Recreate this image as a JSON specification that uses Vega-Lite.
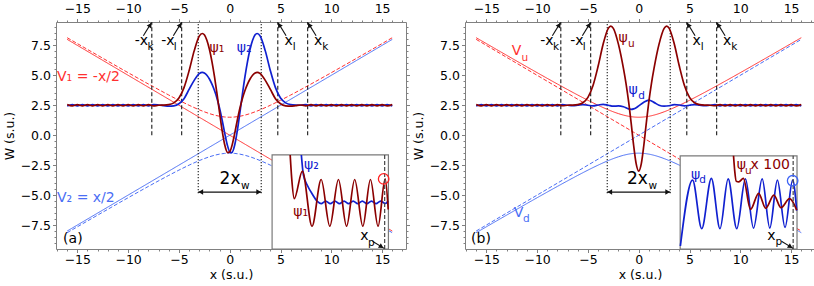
{
"$schema": "https://vega.github.io/schema/vega-lite/v6.json",
"padding": {"left": 2, "top": 2, "right": 0, "bottom": 0},
"background": "white",
"spacing": 59,
"bounds": "flush",
"config": {
  "view": {"stroke": "#808080", "strokeWidth": 1},
  "axis": {"grid": false, "labelFont": "DejaVu Sans", "labelFontSize": 12.5, "labelColor": "#000000", "titleFont": "DejaVu Sans", "titleFontSize": 12.5, "titleFontWeight": "normal", "titleColor": "#000000", "tickColor": "#808080", "tickSize": 3.5, "domain": false, "zindex": 1},
  "text": {"font": "DejaVu Sans"}
},
"resolve": {"scale": {"x": "independent", "y": "independent", "color": "independent", "strokeDash": "independent"}},
"datasets": {
  "potential": [
    {"curve":"dia1","state":"1","kind":"diabatic","x":-16,"W":8},
    {"curve":"dia1","state":"1","kind":"diabatic","x":16,"W":-8},
    {"curve":"dia2","state":"2","kind":"diabatic","x":-16,"W":-8},
    {"curve":"dia2","state":"2","kind":"diabatic","x":16,"W":8},
    {"curve":"ad1","state":"1","kind":"adiabatic","x":-16,"W":8.139},
    {"curve":"ad1","state":"1","kind":"adiabatic","x":-14,"W":7.159},
    {"curve":"ad1","state":"1","kind":"adiabatic","x":-12,"W":6.185},
    {"curve":"ad1","state":"1","kind":"adiabatic","x":-10,"W":5.220},
    {"curve":"ad1","state":"1","kind":"adiabatic","x":-8,"W":4.272},
    {"curve":"ad1","state":"1","kind":"adiabatic","x":-6,"W":3.354},
    {"curve":"ad1","state":"1","kind":"adiabatic","x":-5,"W":2.915},
    {"curve":"ad1","state":"1","kind":"adiabatic","x":-4,"W":2.5},
    {"curve":"ad1","state":"1","kind":"adiabatic","x":-3,"W":2.121},
    {"curve":"ad1","state":"1","kind":"adiabatic","x":-2.5,"W":1.953},
    {"curve":"ad1","state":"1","kind":"adiabatic","x":-2,"W":1.803},
    {"curve":"ad1","state":"1","kind":"adiabatic","x":-1.5,"W":1.677},
    {"curve":"ad1","state":"1","kind":"adiabatic","x":-1,"W":1.581},
    {"curve":"ad1","state":"1","kind":"adiabatic","x":-0.5,"W":1.521},
    {"curve":"ad1","state":"1","kind":"adiabatic","x":0,"W":1.5},
    {"curve":"ad1","state":"1","kind":"adiabatic","x":0.5,"W":1.521},
    {"curve":"ad1","state":"1","kind":"adiabatic","x":1,"W":1.581},
    {"curve":"ad1","state":"1","kind":"adiabatic","x":1.5,"W":1.677},
    {"curve":"ad1","state":"1","kind":"adiabatic","x":2,"W":1.803},
    {"curve":"ad1","state":"1","kind":"adiabatic","x":2.5,"W":1.953},
    {"curve":"ad1","state":"1","kind":"adiabatic","x":3,"W":2.121},
    {"curve":"ad1","state":"1","kind":"adiabatic","x":4,"W":2.5},
    {"curve":"ad1","state":"1","kind":"adiabatic","x":5,"W":2.915},
    {"curve":"ad1","state":"1","kind":"adiabatic","x":6,"W":3.354},
    {"curve":"ad1","state":"1","kind":"adiabatic","x":8,"W":4.272},
    {"curve":"ad1","state":"1","kind":"adiabatic","x":10,"W":5.220},
    {"curve":"ad1","state":"1","kind":"adiabatic","x":12,"W":6.185},
    {"curve":"ad1","state":"1","kind":"adiabatic","x":14,"W":7.159},
    {"curve":"ad1","state":"1","kind":"adiabatic","x":16,"W":8.139},
    {"curve":"ad2","state":"2","kind":"adiabatic","x":-16,"W":-8.139},
    {"curve":"ad2","state":"2","kind":"adiabatic","x":-14,"W":-7.159},
    {"curve":"ad2","state":"2","kind":"adiabatic","x":-12,"W":-6.185},
    {"curve":"ad2","state":"2","kind":"adiabatic","x":-10,"W":-5.220},
    {"curve":"ad2","state":"2","kind":"adiabatic","x":-8,"W":-4.272},
    {"curve":"ad2","state":"2","kind":"adiabatic","x":-6,"W":-3.354},
    {"curve":"ad2","state":"2","kind":"adiabatic","x":-5,"W":-2.915},
    {"curve":"ad2","state":"2","kind":"adiabatic","x":-4,"W":-2.5},
    {"curve":"ad2","state":"2","kind":"adiabatic","x":-3,"W":-2.121},
    {"curve":"ad2","state":"2","kind":"adiabatic","x":-2.5,"W":-1.953},
    {"curve":"ad2","state":"2","kind":"adiabatic","x":-2,"W":-1.803},
    {"curve":"ad2","state":"2","kind":"adiabatic","x":-1.5,"W":-1.677},
    {"curve":"ad2","state":"2","kind":"adiabatic","x":-1,"W":-1.581},
    {"curve":"ad2","state":"2","kind":"adiabatic","x":-0.5,"W":-1.521},
    {"curve":"ad2","state":"2","kind":"adiabatic","x":0,"W":-1.5},
    {"curve":"ad2","state":"2","kind":"adiabatic","x":0.5,"W":-1.521},
    {"curve":"ad2","state":"2","kind":"adiabatic","x":1,"W":-1.581},
    {"curve":"ad2","state":"2","kind":"adiabatic","x":1.5,"W":-1.677},
    {"curve":"ad2","state":"2","kind":"adiabatic","x":2,"W":-1.803},
    {"curve":"ad2","state":"2","kind":"adiabatic","x":2.5,"W":-1.953},
    {"curve":"ad2","state":"2","kind":"adiabatic","x":3,"W":-2.121},
    {"curve":"ad2","state":"2","kind":"adiabatic","x":4,"W":-2.5},
    {"curve":"ad2","state":"2","kind":"adiabatic","x":5,"W":-2.915},
    {"curve":"ad2","state":"2","kind":"adiabatic","x":6,"W":-3.354},
    {"curve":"ad2","state":"2","kind":"adiabatic","x":8,"W":-4.272},
    {"curve":"ad2","state":"2","kind":"adiabatic","x":10,"W":-5.220},
    {"curve":"ad2","state":"2","kind":"adiabatic","x":12,"W":-6.185},
    {"curve":"ad2","state":"2","kind":"adiabatic","x":14,"W":-7.159},
    {"curve":"ad2","state":"2","kind":"adiabatic","x":16,"W":-8.139}
  ],
  "guides": [
    {"kind":"turning","x":-7.67,"y":0,"y2":9.45},
    {"kind":"turning","x":-4.73,"y":0,"y2":9.45},
    {"kind":"turning","x":4.73,"y":0,"y2":9.45},
    {"kind":"turning","x":7.67,"y":0,"y2":9.45},
    {"kind":"width","x":-3.1,"y":-4.85,"y2":9.45},
    {"kind":"width","x":3.1,"y":-4.85,"y2":9.45}
  ],
  "arrows": [
    {"x":-8.5,"y":8.3,"x2":-7.72,"y2":9.38},
    {"x":-5.55,"y":8.3,"x2":-4.77,"y2":9.38},
    {"x":5.55,"y":8.3,"x2":4.77,"y2":9.38},
    {"x":8.5,"y":8.3,"x2":7.72,"y2":9.38},
    {"x":-3.1,"y":-4.75,"x2":3.1,"y2":-4.75},
    {"x":14.05,"y":-8.85,"x2":15.2,"y2":-9.45}
  ],
  "heads": [
    {"x":-7.82,"y":9.2,"angle":33},
    {"x":-4.87,"y":9.2,"angle":33},
    {"x":4.87,"y":9.2,"angle":327},
    {"x":7.82,"y":9.2,"angle":327},
    {"x":-2.85,"y":-4.75,"angle":270},
    {"x":2.85,"y":-4.75,"angle":90},
    {"x":14.93,"y":-9.31,"angle":122}
  ],
  "insetBox": [
    {"panel":"a","x1":4.17,"x2":15.62,"y1":-9.5,"y2":-1.65},
    {"panel":"b","x1":4.08,"x2":15.58,"y1":-9.5,"y2":-1.72}
  ],
  "probe": [
    {"panel":"a","series":"state1","x":15.25,"y1":-9.5,"y2":-1.65,"xc":15.15,"yc":-3.65},
    {"panel":"b","series":"state2","x":15.2,"y1":-9.5,"y2":-1.72,"xc":15.15,"yc":-3.8}
  ],
  "waveA": [
    {"psi":"ψ2","x":-16,"y":2.44},{"psi":"ψ2","x":-15.5,"y":2.56},{"psi":"ψ2","x":-15,"y":2.44},{"psi":"ψ2","x":-14.5,"y":2.56},{"psi":"ψ2","x":-14,"y":2.44},{"psi":"ψ2","x":-13.5,"y":2.56},{"psi":"ψ2","x":-13,"y":2.44},{"psi":"ψ2","x":-12.5,"y":2.56},{"psi":"ψ2","x":-12,"y":2.44},{"psi":"ψ2","x":-11.5,"y":2.56},{"psi":"ψ2","x":-11,"y":2.44},{"psi":"ψ2","x":-10.5,"y":2.56},{"psi":"ψ2","x":-10,"y":2.44},{"psi":"ψ2","x":-9.5,"y":2.56},{"psi":"ψ2","x":-9,"y":2.44},{"psi":"ψ2","x":-8.5,"y":2.56},{"psi":"ψ2","x":-8,"y":2.44},{"psi":"ψ2","x":-7.5,"y":2.55},
    {"psi":"ψ2","x":-7,"y":2.52},{"psi":"ψ2","x":-6.5,"y":2.47},{"psi":"ψ2","x":-6,"y":2.42},{"psi":"ψ2","x":-5.5,"y":2.45},{"psi":"ψ2","x":-5,"y":2.62},{"psi":"ψ2","x":-4.5,"y":3.05},{"psi":"ψ2","x":-4,"y":3.82},{"psi":"ψ2","x":-3.5,"y":4.58},{"psi":"ψ2","x":-3,"y":5.14},{"psi":"ψ2","x":-2.7,"y":5.25},{"psi":"ψ2","x":-2.5,"y":5.2},{"psi":"ψ2","x":-2.25,"y":5.01},{"psi":"ψ2","x":-2,"y":4.69},{"psi":"ψ2","x":-1.75,"y":4.26},{"psi":"ψ2","x":-1.5,"y":3.73},{"psi":"ψ2","x":-1.25,"y":3.07},{"psi":"ψ2","x":-1,"y":2.25},{"psi":"ψ2","x":-0.75,"y":1.27},{"psi":"ψ2","x":-0.5,"y":0.2},{"psi":"ψ2","x":-0.25,"y":-0.77},{"psi":"ψ2","x":0,"y":-1.38},{"psi":"ψ2","x":0.2,"y":-1.45},{"psi":"ψ2","x":0.5,"y":-0.78},{"psi":"ψ2","x":0.75,"y":0.4},{"psi":"ψ2","x":1,"y":1.88},{"psi":"ψ2","x":1.25,"y":3.44},{"psi":"ψ2","x":1.5,"y":4.89},{"psi":"ψ2","x":1.75,"y":6.15},{"psi":"ψ2","x":2,"y":7.18},{"psi":"ψ2","x":2.25,"y":7.93},{"psi":"ψ2","x":2.5,"y":8.38},{"psi":"ψ2","x":2.7,"y":8.49},{"psi":"ψ2","x":3,"y":8.27},{"psi":"ψ2","x":3.5,"y":7.04},{"psi":"ψ2","x":4,"y":5.38},{"psi":"ψ2","x":4.5,"y":3.97},{"psi":"ψ2","x":5,"y":3.1},{"psi":"ψ2","x":5.5,"y":2.7},{"psi":"ψ2","x":6,"y":2.55},{"psi":"ψ2","x":6.5,"y":2.51},{"psi":"ψ2","x":7,"y":2.5},
    {"psi":"ψ2","x":7.5,"y":2.55},{"psi":"ψ2","x":8,"y":2.44},{"psi":"ψ2","x":8.5,"y":2.56},{"psi":"ψ2","x":9,"y":2.44},{"psi":"ψ2","x":9.5,"y":2.56},{"psi":"ψ2","x":10,"y":2.44},{"psi":"ψ2","x":10.5,"y":2.56},{"psi":"ψ2","x":11,"y":2.44},{"psi":"ψ2","x":11.5,"y":2.56},{"psi":"ψ2","x":12,"y":2.44},{"psi":"ψ2","x":12.5,"y":2.56},{"psi":"ψ2","x":13,"y":2.44},{"psi":"ψ2","x":13.5,"y":2.56},{"psi":"ψ2","x":14,"y":2.44},{"psi":"ψ2","x":14.5,"y":2.56},{"psi":"ψ2","x":15,"y":2.44},{"psi":"ψ2","x":15.5,"y":2.56},{"psi":"ψ2","x":16,"y":2.44},
    {"psi":"ψ1","x":-16,"y":2.56},{"psi":"ψ1","x":-15.5,"y":2.44},{"psi":"ψ1","x":-15,"y":2.56},{"psi":"ψ1","x":-14.5,"y":2.44},{"psi":"ψ1","x":-14,"y":2.56},{"psi":"ψ1","x":-13.5,"y":2.44},{"psi":"ψ1","x":-13,"y":2.56},{"psi":"ψ1","x":-12.5,"y":2.44},{"psi":"ψ1","x":-12,"y":2.56},{"psi":"ψ1","x":-11.5,"y":2.44},{"psi":"ψ1","x":-11,"y":2.56},{"psi":"ψ1","x":-10.5,"y":2.44},{"psi":"ψ1","x":-10,"y":2.56},{"psi":"ψ1","x":-9.5,"y":2.44},{"psi":"ψ1","x":-9,"y":2.56},{"psi":"ψ1","x":-8.5,"y":2.44},{"psi":"ψ1","x":-8,"y":2.56},{"psi":"ψ1","x":-7.5,"y":2.45},
    {"psi":"ψ1","x":-7,"y":2.5},{"psi":"ψ1","x":-6.5,"y":2.51},{"psi":"ψ1","x":-6,"y":2.55},{"psi":"ψ1","x":-5.5,"y":2.7},{"psi":"ψ1","x":-5,"y":3.1},{"psi":"ψ1","x":-4.5,"y":3.97},{"psi":"ψ1","x":-4,"y":5.38},{"psi":"ψ1","x":-3.5,"y":7.04},{"psi":"ψ1","x":-3,"y":8.27},{"psi":"ψ1","x":-2.7,"y":8.49},{"psi":"ψ1","x":-2.5,"y":8.38},{"psi":"ψ1","x":-2.25,"y":7.93},{"psi":"ψ1","x":-2,"y":7.18},{"psi":"ψ1","x":-1.75,"y":6.15},{"psi":"ψ1","x":-1.5,"y":4.89},{"psi":"ψ1","x":-1.25,"y":3.44},{"psi":"ψ1","x":-1,"y":1.88},{"psi":"ψ1","x":-0.75,"y":0.4},{"psi":"ψ1","x":-0.5,"y":-0.78},{"psi":"ψ1","x":-0.2,"y":-1.45},{"psi":"ψ1","x":0,"y":-1.38},{"psi":"ψ1","x":0.25,"y":-0.77},{"psi":"ψ1","x":0.5,"y":0.2},{"psi":"ψ1","x":0.75,"y":1.27},{"psi":"ψ1","x":1,"y":2.25},{"psi":"ψ1","x":1.25,"y":3.07},{"psi":"ψ1","x":1.5,"y":3.73},{"psi":"ψ1","x":1.75,"y":4.26},{"psi":"ψ1","x":2,"y":4.69},{"psi":"ψ1","x":2.25,"y":5.01},{"psi":"ψ1","x":2.5,"y":5.2},{"psi":"ψ1","x":2.7,"y":5.25},{"psi":"ψ1","x":3,"y":5.14},{"psi":"ψ1","x":3.5,"y":4.58},{"psi":"ψ1","x":4,"y":3.82},{"psi":"ψ1","x":4.5,"y":3.05},{"psi":"ψ1","x":5,"y":2.62},{"psi":"ψ1","x":5.5,"y":2.45},{"psi":"ψ1","x":6,"y":2.42},{"psi":"ψ1","x":6.5,"y":2.47},{"psi":"ψ1","x":7,"y":2.52},
    {"psi":"ψ1","x":7.5,"y":2.45},{"psi":"ψ1","x":8,"y":2.56},{"psi":"ψ1","x":8.5,"y":2.44},{"psi":"ψ1","x":9,"y":2.56},{"psi":"ψ1","x":9.5,"y":2.44},{"psi":"ψ1","x":10,"y":2.56},{"psi":"ψ1","x":10.5,"y":2.44},{"psi":"ψ1","x":11,"y":2.56},{"psi":"ψ1","x":11.5,"y":2.44},{"psi":"ψ1","x":12,"y":2.56},{"psi":"ψ1","x":12.5,"y":2.44},{"psi":"ψ1","x":13,"y":2.56},{"psi":"ψ1","x":13.5,"y":2.44},{"psi":"ψ1","x":14,"y":2.56},{"psi":"ψ1","x":14.5,"y":2.44},{"psi":"ψ1","x":15,"y":2.56},{"psi":"ψ1","x":15.5,"y":2.44},{"psi":"ψ1","x":16,"y":2.56}
  ],
  "waveB": [
    {"psi":"ψd","x":-16,"y":2.44},{"psi":"ψd","x":-15.5,"y":2.56},{"psi":"ψd","x":-15,"y":2.44},{"psi":"ψd","x":-14.5,"y":2.56},{"psi":"ψd","x":-14,"y":2.44},{"psi":"ψd","x":-13.5,"y":2.56},{"psi":"ψd","x":-13,"y":2.44},{"psi":"ψd","x":-12.5,"y":2.56},{"psi":"ψd","x":-12,"y":2.44},{"psi":"ψd","x":-11.5,"y":2.56},{"psi":"ψd","x":-11,"y":2.44},{"psi":"ψd","x":-10.5,"y":2.56},{"psi":"ψd","x":-10,"y":2.44},{"psi":"ψd","x":-9.5,"y":2.56},{"psi":"ψd","x":-9,"y":2.44},{"psi":"ψd","x":-8.5,"y":2.56},{"psi":"ψd","x":-8,"y":2.44},{"psi":"ψd","x":-7.5,"y":2.55},
    {"psi":"ψd","x":-7,"y":2.5},{"psi":"ψd","x":-6.5,"y":2.46},{"psi":"ψd","x":-6,"y":2.5},{"psi":"ψd","x":-5.5,"y":2.55},{"psi":"ψd","x":-5,"y":2.5},{"psi":"ψd","x":-4.5,"y":2.45},{"psi":"ψd","x":-4,"y":2.52},{"psi":"ψd","x":-3.5,"y":2.58},{"psi":"ψd","x":-3,"y":2.5},{"psi":"ψd","x":-2.5,"y":2.42},{"psi":"ψd","x":-2,"y":2.45},{"psi":"ψd","x":-1.5,"y":2.38},{"psi":"ψd","x":-1,"y":2.2},{"psi":"ψd","x":-0.75,"y":2.16},{"psi":"ψd","x":-0.5,"y":2.2},{"psi":"ψd","x":-0.25,"y":2.3},{"psi":"ψd","x":0,"y":2.45},{"psi":"ψd","x":0.5,"y":2.75},{"psi":"ψd","x":1,"y":2.93},{"psi":"ψd","x":1.5,"y":2.74},{"psi":"ψd","x":2,"y":2.5},{"psi":"ψd","x":2.5,"y":2.42},{"psi":"ψd","x":3,"y":2.46},{"psi":"ψd","x":3.5,"y":2.55},{"psi":"ψd","x":4,"y":2.52},{"psi":"ψd","x":4.5,"y":2.45},{"psi":"ψd","x":5,"y":2.5},{"psi":"ψd","x":5.5,"y":2.55},{"psi":"ψd","x":6,"y":2.5},{"psi":"ψd","x":6.5,"y":2.46},{"psi":"ψd","x":7,"y":2.5},
    {"psi":"ψd","x":7.5,"y":2.55},{"psi":"ψd","x":8,"y":2.44},{"psi":"ψd","x":8.5,"y":2.56},{"psi":"ψd","x":9,"y":2.44},{"psi":"ψd","x":9.5,"y":2.56},{"psi":"ψd","x":10,"y":2.44},{"psi":"ψd","x":10.5,"y":2.56},{"psi":"ψd","x":11,"y":2.44},{"psi":"ψd","x":11.5,"y":2.56},{"psi":"ψd","x":12,"y":2.44},{"psi":"ψd","x":12.5,"y":2.56},{"psi":"ψd","x":13,"y":2.44},{"psi":"ψd","x":13.5,"y":2.56},{"psi":"ψd","x":14,"y":2.44},{"psi":"ψd","x":14.5,"y":2.56},{"psi":"ψd","x":15,"y":2.44},{"psi":"ψd","x":15.5,"y":2.56},{"psi":"ψd","x":16,"y":2.44},
    {"psi":"ψu","x":-16,"y":2.56},{"psi":"ψu","x":-15.5,"y":2.44},{"psi":"ψu","x":-15,"y":2.56},{"psi":"ψu","x":-14.5,"y":2.44},{"psi":"ψu","x":-14,"y":2.56},{"psi":"ψu","x":-13.5,"y":2.44},{"psi":"ψu","x":-13,"y":2.56},{"psi":"ψu","x":-12.5,"y":2.44},{"psi":"ψu","x":-12,"y":2.56},{"psi":"ψu","x":-11.5,"y":2.44},{"psi":"ψu","x":-11,"y":2.56},{"psi":"ψu","x":-10.5,"y":2.44},{"psi":"ψu","x":-10,"y":2.56},{"psi":"ψu","x":-9.5,"y":2.44},{"psi":"ψu","x":-9,"y":2.56},{"psi":"ψu","x":-8.5,"y":2.44},{"psi":"ψu","x":-8,"y":2.56},{"psi":"ψu","x":-7.5,"y":2.46},
    {"psi":"ψu","x":-7,"y":2.5},{"psi":"ψu","x":-6.5,"y":2.51},{"psi":"ψu","x":-6,"y":2.55},{"psi":"ψu","x":-5.5,"y":2.71},{"psi":"ψu","x":-5,"y":3.16},{"psi":"ψu","x":-4.5,"y":4.15},{"psi":"ψu","x":-4,"y":5.75},{"psi":"ψu","x":-3.5,"y":7.61},{"psi":"ψu","x":-3,"y":8.92},{"psi":"ψu","x":-2.75,"y":9.1},{"psi":"ψu","x":-2.5,"y":8.92},{"psi":"ψu","x":-2,"y":7.6},{"psi":"ψu","x":-1.5,"y":5.55},{"psi":"ψu","x":-1.25,"y":4.31},{"psi":"ψu","x":-1,"y":2.83},{"psi":"ψu","x":-0.75,"y":1.05},{"psi":"ψu","x":-0.5,"y":-0.86},{"psi":"ψu","x":-0.25,"y":-2.4},{"psi":"ψu","x":0,"y":-3.0},{"psi":"ψu","x":0.25,"y":-2.4},{"psi":"ψu","x":0.5,"y":-0.86},{"psi":"ψu","x":0.75,"y":1.05},{"psi":"ψu","x":1,"y":2.83},{"psi":"ψu","x":1.25,"y":4.31},{"psi":"ψu","x":1.5,"y":5.55},{"psi":"ψu","x":2,"y":7.6},{"psi":"ψu","x":2.5,"y":8.92},{"psi":"ψu","x":2.75,"y":9.1},{"psi":"ψu","x":3,"y":8.92},{"psi":"ψu","x":3.5,"y":7.61},{"psi":"ψu","x":4,"y":5.75},{"psi":"ψu","x":4.5,"y":4.15},{"psi":"ψu","x":5,"y":3.16},{"psi":"ψu","x":5.5,"y":2.71},{"psi":"ψu","x":6,"y":2.55},{"psi":"ψu","x":6.5,"y":2.51},{"psi":"ψu","x":7,"y":2.5},
    {"psi":"ψu","x":7.5,"y":2.46},{"psi":"ψu","x":8,"y":2.56},{"psi":"ψu","x":8.5,"y":2.44},{"psi":"ψu","x":9,"y":2.56},{"psi":"ψu","x":9.5,"y":2.44},{"psi":"ψu","x":10,"y":2.56},{"psi":"ψu","x":10.5,"y":2.44},{"psi":"ψu","x":11,"y":2.56},{"psi":"ψu","x":11.5,"y":2.44},{"psi":"ψu","x":12,"y":2.56},{"psi":"ψu","x":12.5,"y":2.44},{"psi":"ψu","x":13,"y":2.56},{"psi":"ψu","x":13.5,"y":2.44},{"psi":"ψu","x":14,"y":2.56},{"psi":"ψu","x":14.5,"y":2.44},{"psi":"ψu","x":15,"y":2.56},{"psi":"ψu","x":15.5,"y":2.44},{"psi":"ψu","x":16,"y":2.56}
  ],
  "insetA": [
    {"psi":"ψ2","x":7.05,"y":-1.65},{"psi":"ψ2","x":7.25,"y":-3.3},{"psi":"ψ2","x":7.65,"y":-4.2},{"psi":"ψ2","x":8.15,"y":-4.95},{"psi":"ψ2","x":8.65,"y":-5.55},{"psi":"ψ2","x":9.0,"y":-5.72},{"psi":"ψ2","x":9.45,"y":-5.5},{"psi":"ψ2","x":9.9,"y":-5.72},{"psi":"ψ2","x":10.35,"y":-5.5},{"psi":"ψ2","x":10.8,"y":-5.72},{"psi":"ψ2","x":11.25,"y":-5.5},{"psi":"ψ2","x":11.7,"y":-5.72},{"psi":"ψ2","x":12.15,"y":-5.5},{"psi":"ψ2","x":12.6,"y":-5.72},{"psi":"ψ2","x":13.05,"y":-5.5},{"psi":"ψ2","x":13.5,"y":-5.72},{"psi":"ψ2","x":13.95,"y":-5.5},{"psi":"ψ2","x":14.4,"y":-5.72},{"psi":"ψ2","x":14.85,"y":-5.5},{"psi":"ψ2","x":15.3,"y":-5.7},{"psi":"ψ2","x":15.6,"y":-5.5},
    {"psi":"ψ1","x":5.95,"y":-1.65},{"psi":"ψ1","x":6.1,"y":-3.6},{"psi":"ψ1","x":6.35,"y":-5.3},{"psi":"ψ1","x":7.15,"y":-3.0},{"psi":"ψ1","x":8.1,"y":-7.6},{"psi":"ψ1","x":9.0,"y":-3.7},{"psi":"ψ1","x":9.85,"y":-7.6},{"psi":"ψ1","x":10.7,"y":-3.7},{"psi":"ψ1","x":11.5,"y":-7.6},{"psi":"ψ1","x":12.3,"y":-3.7},{"psi":"ψ1","x":13.1,"y":-7.6},{"psi":"ψ1","x":13.85,"y":-3.7},{"psi":"ψ1","x":14.6,"y":-7.6},{"psi":"ψ1","x":15.3,"y":-3.65},{"psi":"ψ1","x":15.6,"y":-6.2}
  ],
  "insetB": [
    {"psi":"ψd","x":4.1,"y":-9.25},{"psi":"ψd","x":5.3,"y":-3.75},{"psi":"ψd","x":6.2,"y":-7.8},{"psi":"ψd","x":7.15,"y":-3.6},{"psi":"ψd","x":8.0,"y":-7.8},{"psi":"ψd","x":8.8,"y":-3.65},{"psi":"ψd","x":9.65,"y":-7.8},{"psi":"ψd","x":10.5,"y":-3.65},{"psi":"ψd","x":11.3,"y":-7.75},{"psi":"ψd","x":12.15,"y":-3.65},{"psi":"ψd","x":12.9,"y":-7.75},{"psi":"ψd","x":13.65,"y":-3.75},{"psi":"ψd","x":14.4,"y":-7.7},{"psi":"ψd","x":15.15,"y":-3.75},{"psi":"ψd","x":15.55,"y":-6.3},
    {"psi":"ψu","x":9.33,"y":-1.72},{"psi":"ψu","x":9.45,"y":-3.0},{"psi":"ψu","x":9.6,"y":-3.85},{"psi":"ψu","x":9.85,"y":-3.9},{"psi":"ψu","x":10.3,"y":-3.6},{"psi":"ψu","x":11.0,"y":-6.2},{"psi":"ψu","x":11.8,"y":-4.85},{"psi":"ψu","x":12.5,"y":-6.1},{"psi":"ψu","x":13.3,"y":-5.0},{"psi":"ψu","x":14.0,"y":-6.05},{"psi":"ψu","x":14.85,"y":-5.3},{"psi":"ψu","x":15.55,"y":-6.25}
  ],
  "labelsA": [
    {"label":"V₁ = -x/2","x":-17.0,"y":4.85,"series":"state1","role":"name"},
    {"label":"V₂ = x/2","x":-17.0,"y":-5.25,"series":"state2","role":"name"},
    {"label":"ψ₁","x":-2.0,"y":7.25,"series":"psi1","role":"name"},
    {"label":"ψ₂","x":0.7,"y":7.25,"series":"psi2","role":"name"},
    {"label":"-x","x":-9.35,"y":7.85,"series":"ink","role":"name"},
    {"label":"k","x":-8.1,"y":7.35,"series":"ink","role":"sub"},
    {"label":"-x","x":-6.75,"y":7.85,"series":"ink","role":"name"},
    {"label":"l","x":-5.5,"y":7.35,"series":"ink","role":"sub"},
    {"label":"x","x":5.4,"y":7.85,"series":"ink","role":"name"},
    {"label":"l","x":6.2,"y":7.35,"series":"ink","role":"sub"},
    {"label":"x","x":8.3,"y":7.85,"series":"ink","role":"name"},
    {"label":"k","x":9.1,"y":7.35,"series":"ink","role":"sub"},
    {"label":"2x","x":-1.0,"y":-3.65,"series":"ink","role":"big"},
    {"label":"w","x":1.1,"y":-4.2,"series":"ink","role":"sub"},
    {"label":"(a)","x":-16.4,"y":-8.7,"series":"ink","role":"name"},
    {"label":"ψ₂","x":7.3,"y":-2.45,"series":"psi2","role":"name"},
    {"label":"ψ₁","x":6.25,"y":-6.45,"series":"psi1","role":"name"},
    {"label":"x","x":12.85,"y":-8.45,"series":"ink","role":"name"},
    {"label":"p","x":13.6,"y":-9.0,"series":"ink","role":"sub"}
  ],
  "labelsB": [
    {"label":"V","x":-12.5,"y":7.0,"series":"state1","role":"name"},
    {"label":"u","x":-11.55,"y":6.45,"series":"state1","role":"sub"},
    {"label":"ψ","x":-2.0,"y":8.1,"series":"psi1","role":"name"},
    {"label":"u","x":-1.05,"y":7.6,"series":"psi1","role":"sub"},
    {"label":"ψ","x":-1.0,"y":3.75,"series":"psi2","role":"name"},
    {"label":"d","x":-0.05,"y":3.25,"series":"psi2","role":"sub"},
    {"label":"V","x":-12.3,"y":-6.5,"series":"state2","role":"name"},
    {"label":"d","x":-11.4,"y":-7.0,"series":"state2","role":"sub"},
    {"label":"(b)","x":-16.5,"y":-8.7,"series":"ink","role":"name"},
    {"label":"-x","x":-9.7,"y":7.85,"series":"ink","role":"name"},
    {"label":"k","x":-8.45,"y":7.35,"series":"ink","role":"sub"},
    {"label":"-x","x":-6.75,"y":7.85,"series":"ink","role":"name"},
    {"label":"l","x":-5.5,"y":7.35,"series":"ink","role":"sub"},
    {"label":"x","x":5.3,"y":7.85,"series":"ink","role":"name"},
    {"label":"l","x":6.1,"y":7.35,"series":"ink","role":"sub"},
    {"label":"x","x":8.3,"y":7.85,"series":"ink","role":"name"},
    {"label":"k","x":9.1,"y":7.35,"series":"ink","role":"sub"},
    {"label":"2x","x":-1.15,"y":-3.65,"series":"ink","role":"big"},
    {"label":"w","x":0.95,"y":-4.2,"series":"ink","role":"sub"},
    {"label":"ψ","x":9.65,"y":-2.5,"series":"psi1","role":"name"},
    {"label":"u","x":10.45,"y":-2.95,"series":"psi1","role":"sub"},
    {"label":"x 100","x":11.0,"y":-2.5,"series":"psi1","role":"name"},
    {"label":"ψ","x":5.15,"y":-3.3,"series":"psi2","role":"name"},
    {"label":"d","x":5.95,"y":-3.75,"series":"psi2","role":"sub"},
    {"label":"x","x":12.65,"y":-8.4,"series":"ink","role":"name"},
    {"label":"p","x":13.45,"y":-8.95,"series":"ink","role":"sub"}
  ]
},
"hconcat": [
  {
    "width": 350, "height": 227,
    "resolve": {"axis": {"x": "independent", "y": "independent"}, "scale": {"color": "independent", "strokeDash": "independent"}},
    "layer": [
      {"data": {"name": "potential"}, "mark": {"type": "line", "strokeWidth": 1, "interpolate": "monotone"},
       "encoding": {
         "x": {"field": "x", "type": "quantitative", "scale": {"domain": [-17.1, 17.35], "nice": false, "zero": false}, "axis": {"orient": "bottom", "values": [-15,-10,-5,0,5,10,15], "title": "x (s.u.)", "labelPadding": 1, "titlePadding": 2}},
         "y": {"field": "W", "type": "quantitative", "scale": {"domain": [-9.5, 9.45], "nice": false, "zero": false}, "axis": {"orient": "left", "values": [-7.5,-5,-2.5,0,2.5,5,7.5], "format": ".1f", "title": "W (s.u.)", "labelPadding": 2, "titlePadding": 4}},
         "color": {"field": "state", "type": "nominal", "scale": {"domain": ["1","2"], "range": ["#ff3030","#4a6ef5"]}, "legend": null},
         "strokeDash": {"field": "kind", "type": "nominal", "scale": {"domain": ["diabatic","adiabatic"], "range": [[1,0],[4,2]]}, "legend": null},
         "detail": {"field": "curve"}
       }},
      {"data": {"name": "guides"}, "mark": {"type": "rule", "color": "#1a1a1a", "strokeWidth": 1.1},
       "encoding": {
         "x": {"field": "x", "type": "quantitative", "axis": {"orient": "bottom", "values": [-17,-16,-14,-13,-12,-11,-9,-8,-7,-6,-4,-3,-2,-1,1,2,3,4,6,7,8,9,11,12,13,14,16,17], "labels": false, "tickSize": 2, "title": null}},
         "y": {"field": "y", "type": "quantitative", "axis": {"orient": "left", "values": [-9,-8.5,-8,-7,-6.5,-6,-5.5,-4.5,-4,-3.5,-3,-2,-1.5,-1,-0.5,0.5,1,1.5,2,3,3.5,4,4.5,5.5,6,6.5,7,8,8.5,9], "labels": false, "tickSize": 2, "title": null}},
         "y2": {"field": "y2"},
         "strokeDash": {"field": "kind", "type": "nominal", "scale": {"domain": ["turning","width"], "range": [[4,2.5],[1.2,1.8]]}, "legend": null}
       }},
      {"data": {"name": "waveA"}, "mark": {"type": "line", "strokeWidth": 1.7, "interpolate": "monotone"},
       "encoding": {
         "x": {"field": "x", "type": "quantitative", "axis": {"orient": "top", "values": [-15,-10,-5,0,5,10,15], "title": null, "labelPadding": 3}},
         "y": {"field": "y", "type": "quantitative", "axis": {"orient": "right", "values": [-7.5,-5,-2.5,0,2.5,5,7.5], "labels": false, "title": null}},
         "color": {"field": "psi", "type": "nominal", "scale": {"domain": ["ψ1","ψ2"], "range": ["#8b0000","#1020d0"]}, "legend": null}
       }},
      {"data": {"name": "insetBox"}, "transform": [{"filter": "datum.panel == 'a'"}], "mark": {"type": "rect", "fill": "white", "stroke": "#7a7a7a", "strokeWidth": 1.2},
       "encoding": {
         "x": {"field": "x1", "type": "quantitative", "axis": {"orient": "top", "values": [-17,-16,-14,-13,-12,-11,-9,-8,-7,-6,-4,-3,-2,-1,1,2,3,4,6,7,8,9,11,12,13,14,16,17], "labels": false, "tickSize": 2, "title": null}},
         "x2": {"field": "x2"},
         "y": {"field": "y1", "type": "quantitative", "axis": {"orient": "right", "values": [-9,-8.5,-8,-7,-6.5,-6,-5.5,-4.5,-4,-3.5,-3,-2,-1.5,-1,-0.5,0.5,1,1.5,2,3,3.5,4,4.5,5.5,6,6.5,7,8,8.5,9], "labels": false, "tickSize": 2, "title": null}},
         "y2": {"field": "y2"}
       }},
      {"data": {"name": "insetA"}, "mark": {"type": "line", "strokeWidth": 1.7, "interpolate": "monotone"},
       "encoding": {
         "x": {"field": "x", "type": "quantitative", "axis": null},
         "y": {"field": "y", "type": "quantitative", "axis": null},
         "color": {"field": "psi", "type": "nominal", "scale": {"domain": ["ψ1","ψ2"], "range": ["#8b0000","#1020d0"]}, "legend": null}
       }},
      {"data": {"name": "probe"}, "transform": [{"filter": "datum.panel == 'a'"}], "mark": {"type": "rule", "color": "#444444", "strokeWidth": 1.2, "strokeDash": [4,2]},
       "encoding": {"x": {"field": "x", "type": "quantitative", "axis": null}, "y": {"field": "y1", "type": "quantitative", "axis": null}, "y2": {"field": "y2"}}},
      {"data": {"name": "probe"}, "transform": [{"filter": "datum.panel == 'a'"}], "mark": {"type": "point", "shape": "circle", "filled": false, "size": 110, "strokeWidth": 1.3, "opacity": 1},
       "encoding": {"x": {"field": "xc", "type": "quantitative", "axis": null}, "y": {"field": "yc", "type": "quantitative", "axis": null},
         "color": {"field": "series", "type": "nominal", "scale": {"domain": ["state1","state2"], "range": ["#ff2020","#3d63f5"]}, "legend": null}}},
      {"data": {"name": "arrows"}, "mark": {"type": "rule", "color": "#111111", "strokeWidth": 1.1},
       "encoding": {"x": {"field": "x", "type": "quantitative", "axis": null}, "y": {"field": "y", "type": "quantitative", "axis": null}, "x2": {"field": "x2"}, "y2": {"field": "y2"}}},
      {"data": {"name": "heads"}, "mark": {"type": "point", "shape": "triangle-up", "filled": true, "size": 30, "color": "#111111", "opacity": 1},
       "encoding": {"x": {"field": "x", "type": "quantitative", "axis": null}, "y": {"field": "y", "type": "quantitative", "axis": null}, "angle": {"field": "angle", "type": "quantitative", "scale": null}}},
      {"data": {"name": "labelsA"}, "transform": [{"filter": "datum.role == 'name'"}], "mark": {"type": "text", "align": "left", "baseline": "middle", "fontSize": 14},
       "encoding": {"x": {"field": "x", "type": "quantitative", "axis": null}, "y": {"field": "y", "type": "quantitative", "axis": null}, "text": {"field": "label"},
         "color": {"field": "series", "type": "nominal", "scale": {"domain": ["state1","state2","psi1","psi2","ink"], "range": ["#ff3030","#4a6ef5","#8b0000","#1020d0","#000000"]}, "legend": null}}},
      {"data": {"name": "labelsA"}, "transform": [{"filter": "datum.role == 'sub'"}], "mark": {"type": "text", "align": "left", "baseline": "middle", "fontSize": 10.5},
       "encoding": {"x": {"field": "x", "type": "quantitative", "axis": null}, "y": {"field": "y", "type": "quantitative", "axis": null}, "text": {"field": "label"},
         "color": {"field": "series", "type": "nominal", "scale": {"domain": ["state1","state2","psi1","psi2","ink"], "range": ["#ff3030","#4a6ef5","#8b0000","#1020d0","#000000"]}, "legend": null}}},
      {"data": {"name": "labelsA"}, "transform": [{"filter": "datum.role == 'big'"}], "mark": {"type": "text", "align": "left", "baseline": "middle", "fontSize": 17, "color": "#000000"},
       "encoding": {"x": {"field": "x", "type": "quantitative", "axis": null}, "y": {"field": "y", "type": "quantitative", "axis": null}, "text": {"field": "label"}}}
    ]
  },
  {
    "width": 350, "height": 227,
    "resolve": {"axis": {"x": "independent", "y": "independent"}, "scale": {"color": "independent", "strokeDash": "independent"}},
    "layer": [
      {"data": {"name": "potential"}, "mark": {"type": "line", "strokeWidth": 1, "interpolate": "monotone"},
       "encoding": {
         "x": {"field": "x", "type": "quantitative", "scale": {"domain": [-17.1, 17.35], "nice": false, "zero": false}, "axis": {"orient": "bottom", "values": [-15,-10,-5,0,5,10,15], "title": "x (s.u.)", "labelPadding": 1, "titlePadding": 2}},
         "y": {"field": "W", "type": "quantitative", "scale": {"domain": [-9.5, 9.45], "nice": false, "zero": false}, "axis": {"orient": "left", "values": [-7.5,-5,-2.5,0,2.5,5,7.5], "format": ".1f", "title": "W (s.u.)", "labelPadding": 2, "titlePadding": 4}},
         "color": {"field": "state", "type": "nominal", "scale": {"domain": ["1","2"], "range": ["#ff3030","#4a6ef5"]}, "legend": null},
         "strokeDash": {"field": "kind", "type": "nominal", "scale": {"domain": ["diabatic","adiabatic"], "range": [[4,2],[1,0]]}, "legend": null},
         "detail": {"field": "curve"}
       }},
      {"data": {"name": "guides"}, "mark": {"type": "rule", "color": "#1a1a1a", "strokeWidth": 1.1},
       "encoding": {
         "x": {"field": "x", "type": "quantitative", "axis": {"orient": "bottom", "values": [-17,-16,-14,-13,-12,-11,-9,-8,-7,-6,-4,-3,-2,-1,1,2,3,4,6,7,8,9,11,12,13,14,16,17], "labels": false, "tickSize": 2, "title": null}},
         "y": {"field": "y", "type": "quantitative", "axis": {"orient": "left", "values": [-9,-8.5,-8,-7,-6.5,-6,-5.5,-4.5,-4,-3.5,-3,-2,-1.5,-1,-0.5,0.5,1,1.5,2,3,3.5,4,4.5,5.5,6,6.5,7,8,8.5,9], "labels": false, "tickSize": 2, "title": null}},
         "y2": {"field": "y2"},
         "strokeDash": {"field": "kind", "type": "nominal", "scale": {"domain": ["turning","width"], "range": [[4,2.5],[1.2,1.8]]}, "legend": null}
       }},
      {"data": {"name": "waveB"}, "mark": {"type": "line", "strokeWidth": 1.7, "interpolate": "monotone"},
       "encoding": {
         "x": {"field": "x", "type": "quantitative", "axis": {"orient": "top", "values": [-15,-10,-5,0,5,10,15], "title": null, "labelPadding": 3}},
         "y": {"field": "y", "type": "quantitative", "axis": {"orient": "right", "values": [-7.5,-5,-2.5,0,2.5,5,7.5], "labels": false, "title": null}},
         "color": {"field": "psi", "type": "nominal", "scale": {"domain": ["ψu","ψd"], "range": ["#8b0000","#1020d0"]}, "legend": null}
       }},
      {"data": {"name": "insetBox"}, "transform": [{"filter": "datum.panel == 'b'"}], "mark": {"type": "rect", "fill": "white", "stroke": "#7a7a7a", "strokeWidth": 1.2},
       "encoding": {
         "x": {"field": "x1", "type": "quantitative", "axis": {"orient": "top", "values": [-17,-16,-14,-13,-12,-11,-9,-8,-7,-6,-4,-3,-2,-1,1,2,3,4,6,7,8,9,11,12,13,14,16,17], "labels": false, "tickSize": 2, "title": null}},
         "x2": {"field": "x2"},
         "y": {"field": "y1", "type": "quantitative", "axis": {"orient": "right", "values": [-9,-8.5,-8,-7,-6.5,-6,-5.5,-4.5,-4,-3.5,-3,-2,-1.5,-1,-0.5,0.5,1,1.5,2,3,3.5,4,4.5,5.5,6,6.5,7,8,8.5,9], "labels": false, "tickSize": 2, "title": null}},
         "y2": {"field": "y2"}
       }},
      {"data": {"name": "insetB"}, "mark": {"type": "line", "strokeWidth": 1.7, "interpolate": "monotone"},
       "encoding": {
         "x": {"field": "x", "type": "quantitative", "axis": null},
         "y": {"field": "y", "type": "quantitative", "axis": null},
         "color": {"field": "psi", "type": "nominal", "scale": {"domain": ["ψu","ψd"], "range": ["#8b0000","#1020d0"]}, "legend": null}
       }},
      {"data": {"name": "probe"}, "transform": [{"filter": "datum.panel == 'b'"}], "mark": {"type": "rule", "color": "#444444", "strokeWidth": 1.2, "strokeDash": [4,2]},
       "encoding": {"x": {"field": "x", "type": "quantitative", "axis": null}, "y": {"field": "y1", "type": "quantitative", "axis": null}, "y2": {"field": "y2"}}},
      {"data": {"name": "probe"}, "transform": [{"filter": "datum.panel == 'b'"}], "mark": {"type": "point", "shape": "circle", "filled": false, "size": 110, "strokeWidth": 1.3, "opacity": 1},
       "encoding": {"x": {"field": "xc", "type": "quantitative", "axis": null}, "y": {"field": "yc", "type": "quantitative", "axis": null},
         "color": {"field": "series", "type": "nominal", "scale": {"domain": ["state1","state2"], "range": ["#ff2020","#3d63f5"]}, "legend": null}}},
      {"data": {"name": "arrows"}, "mark": {"type": "rule", "color": "#111111", "strokeWidth": 1.1},
       "encoding": {"x": {"field": "x", "type": "quantitative", "axis": null}, "y": {"field": "y", "type": "quantitative", "axis": null}, "x2": {"field": "x2"}, "y2": {"field": "y2"}}},
      {"data": {"name": "heads"}, "mark": {"type": "point", "shape": "triangle-up", "filled": true, "size": 30, "color": "#111111", "opacity": 1},
       "encoding": {"x": {"field": "x", "type": "quantitative", "axis": null}, "y": {"field": "y", "type": "quantitative", "axis": null}, "angle": {"field": "angle", "type": "quantitative", "scale": null}}},
      {"data": {"name": "labelsB"}, "transform": [{"filter": "datum.role == 'name'"}], "mark": {"type": "text", "align": "left", "baseline": "middle", "fontSize": 14},
       "encoding": {"x": {"field": "x", "type": "quantitative", "axis": null}, "y": {"field": "y", "type": "quantitative", "axis": null}, "text": {"field": "label"},
         "color": {"field": "series", "type": "nominal", "scale": {"domain": ["state1","state2","psi1","psi2","ink"], "range": ["#ff3030","#4a6ef5","#8b0000","#1020d0","#000000"]}, "legend": null}}},
      {"data": {"name": "labelsB"}, "transform": [{"filter": "datum.role == 'sub'"}], "mark": {"type": "text", "align": "left", "baseline": "middle", "fontSize": 10.5},
       "encoding": {"x": {"field": "x", "type": "quantitative", "axis": null}, "y": {"field": "y", "type": "quantitative", "axis": null}, "text": {"field": "label"},
         "color": {"field": "series", "type": "nominal", "scale": {"domain": ["state1","state2","psi1","psi2","ink"], "range": ["#ff3030","#4a6ef5","#8b0000","#1020d0","#000000"]}, "legend": null}}},
      {"data": {"name": "labelsB"}, "transform": [{"filter": "datum.role == 'big'"}], "mark": {"type": "text", "align": "left", "baseline": "middle", "fontSize": 17, "color": "#000000"},
       "encoding": {"x": {"field": "x", "type": "quantitative", "axis": null}, "y": {"field": "y", "type": "quantitative", "axis": null}, "text": {"field": "label"}}}
    ]
  }
]
}
